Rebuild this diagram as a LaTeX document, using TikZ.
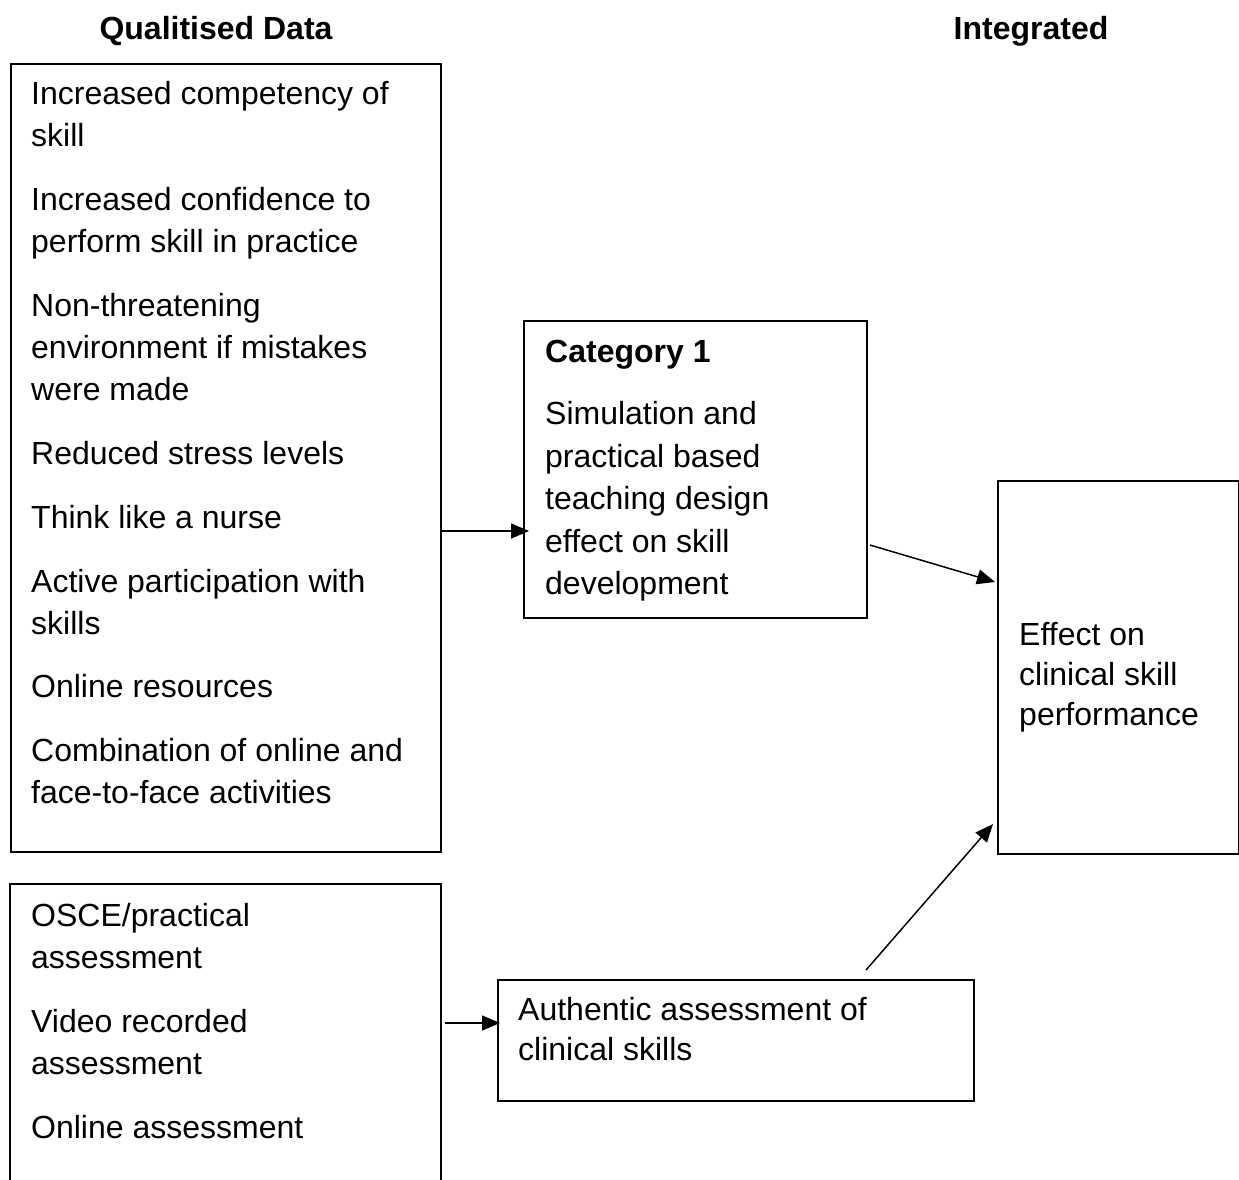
\documentclass[tikz,border=0pt]{standalone}
\usepackage{fontspec}
\setmainfont{Liberation Sans}
\usetikzlibrary{arrows.meta}
\begin{document}
\begin{tikzpicture}[x=1pt,y=-1pt,
  box/.style={draw,line width=1.9pt,minimum width=#1,inner sep=0pt,anchor=north west},
  frame/.style={inner sep=0pt,anchor=north west},
  txt/.style={anchor=base west,inner sep=0pt,font=\fontsize{32}{38}\selectfont},
  head/.style={anchor=base,inner sep=0pt,font=\fontsize{32}{38}\selectfont\bfseries},
  arr/.style={line width=1.5pt,-{Triangle[length=18pt,width=15pt]}}]
\useasboundingbox (0,0) rectangle (1239,1179);
\fill[white] (0,0) rectangle (1239,1179);

% column headings
\node[head] (h1) at (216,39) {Qualitised Data};
\node[head] (h2) at (1031,39) {Integrated};

% boxes
\node[box=430pt,minimum height=788pt] (A) at (10,63) {};
\node[box=343pt,minimum height=297pt] (B) at (523,320) {};
\node[box=241pt,minimum height=373pt] (C) at (997,480) {};
\node[box=476pt,minimum height=121pt] (E) at (497,979) {};
\node[frame,minimum width=431pt,minimum height=300pt] (D) at (10,884) {};
\draw[line width=1.9pt] (D.south west) -- (D.north west) -- (D.north east) -- (D.south east);

% texts of the upper left box
\node[txt] (a1) at (31,104) {Increased competency of};
\node[txt] (a2) at (31,146) {skill};
\node[txt] (a3) at (31,210) {Increased confidence to};
\node[txt] (a4) at (31,252) {perform skill in practice};
\node[txt] (a5) at (31,316) {Non-threatening};
\node[txt] (a6) at (31,358) {environment if mistakes};
\node[txt] (a7) at (31,400) {were made};
\node[txt] (a8) at (31,464) {Reduced stress levels};
\node[txt] (a9) at (31,528) {Think like a nurse};
\node[txt] (a10) at (31,592) {Active participation with};
\node[txt] (a11) at (31,634) {skills};
\node[txt] (a12) at (31,697) {Online resources};
\node[txt] (a13) at (31,761) {Combination of online and};
\node[txt] (a14) at (31,803) {face-to-face activities};

% category box
\node[txt,font=\fontsize{32}{38}\selectfont\bfseries] (b1) at (545,362) {Category 1};
\node[txt] (b2) at (545,424) {Simulation and};
\node[txt] (b3) at (545,467) {practical based};
\node[txt] (b4) at (545,509) {teaching design};
\node[txt] (b5) at (545,552) {effect on skill};
\node[txt] (b6) at (545,594) {development};

% outcome box
\node[txt] (c1) at (1019,645) {Effect on};
\node[txt] (c2) at (1019,685) {clinical skill};
\node[txt] (c3) at (1019,725) {performance};

% lower left box
\node[txt] (d1) at (31,926) {OSCE/practical};
\node[txt] (d2) at (31,968) {assessment};
\node[txt] (d3) at (31,1032) {Video recorded};
\node[txt] (d4) at (31,1074) {assessment};
\node[txt] (d5) at (31,1138) {Online assessment};

% assessment box
\node[txt] (e1) at (518,1020) {Authentic assessment of};
\node[txt] (e2) at (518,1060) {clinical skills};

% connectors
\draw[arr] (A.east |- 0,531) -- ([xshift=6pt]B.west |- 0,531);
\draw[arr] ([xshift=2pt]B.east |- 0,545) -- ([xshift=-2pt]C.west |- 0,582);
\draw[arr] (866,970) -- ([xshift=-4pt]C.west |- 0,824);
\draw[arr] ([xshift=4pt]D.east |- 0,1023) -- ([xshift=3pt]E.west |- 0,1023);
\end{tikzpicture}
\end{document}
